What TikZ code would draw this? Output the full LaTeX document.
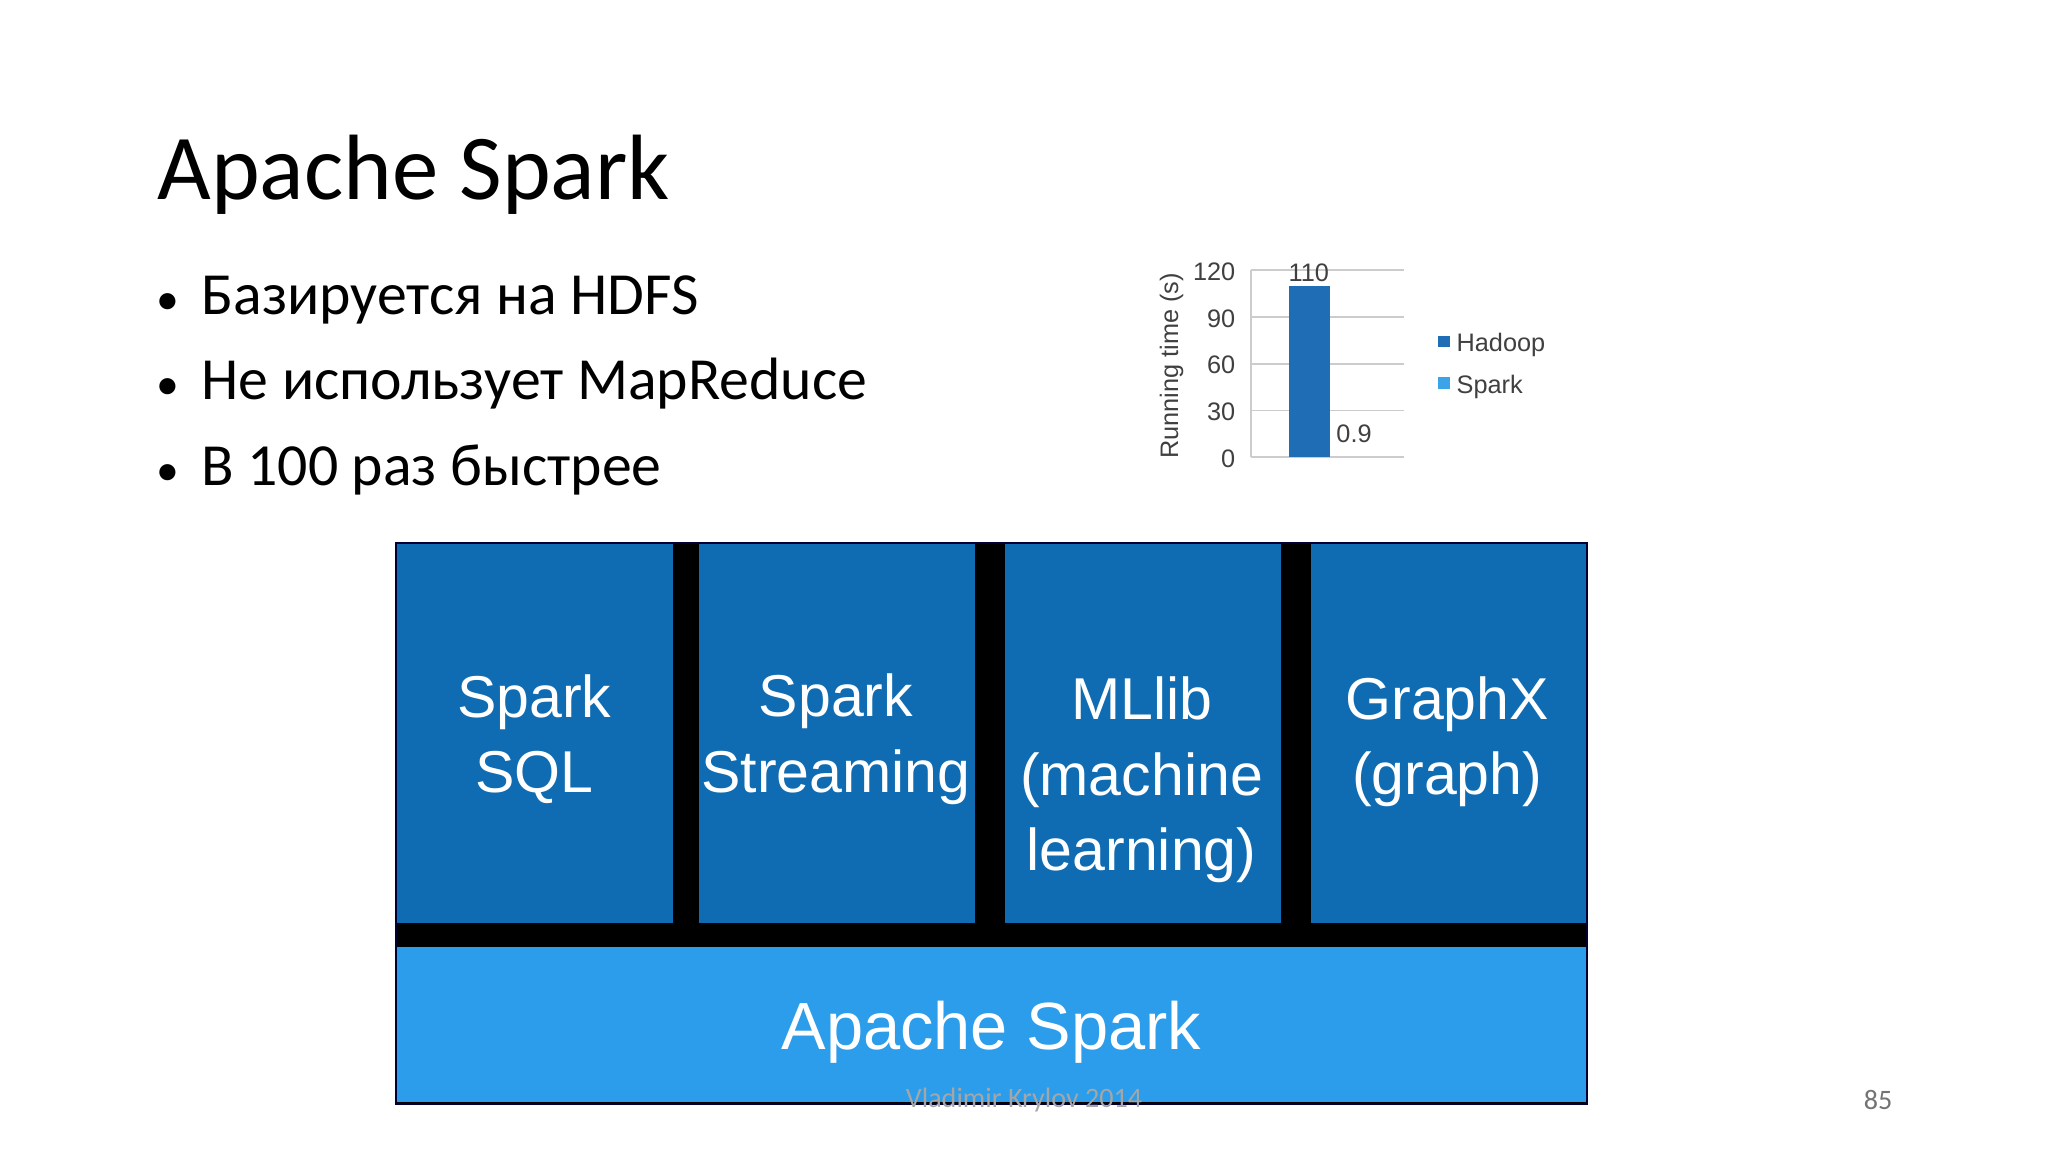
\documentclass[tikz,border=0pt]{standalone}
\usepackage{fontspec}
\setmainfont{Carlito}
\newfontfamily\hel{Liberation Sans}
\begin{document}
\begin{tikzpicture}[x=0.0130612cm,y=-0.0130612cm,
  top/.style={fill=topblue,draw=none,inner sep=0},
  btxt/.style={font=\hel\fontsize{16.8}{21.5}\selectfont,text=white,align=center},
  tick/.style={font=\hel\fontsize{7.2}{8}\selectfont,text=black!75},
  grid/.style={draw=black!20,line width=0.5pt},
  bul/.style={font=\fontsize{17}{20}\selectfont,anchor=base west,inner sep=0}]
\definecolor{topblue}{HTML}{0F6CB2}
\definecolor{botblue}{HTML}{2B9DEA}
\definecolor{hadoop}{HTML}{1F6DB5}
\definecolor{sparkc}{HTML}{3BA3E8}
\useasboundingbox (0,0) rectangle (1568,882);
\fill[white] (0,0) rectangle (1568,882);
% title and bullets
\node[font=\fontsize{26.4}{30}\selectfont,anchor=base west,inner sep=0] (title) at (120,153) {Apache Spark};
\node[bul] (b1) at (119,241) {{\fontsize{13}{13}\selectfont•}\hspace{0.38em}Базируется на HDFS};
\node[bul] (b2) at (119,306) {{\fontsize{13}{13}\selectfont•}\hspace{0.38em}Не использует MapReduce};
\node[bul] (b3) at (119,372) {{\fontsize{13}{13}\selectfont•}\hspace{0.38em}В 100 раз быстрее};
% chart
\foreach \v in {0,30,60,90,120}{
  \draw[grid] (958,{350-\v*1.19167}) -- (1075,{350-\v*1.19167});
  \node[tick,anchor=east,inner sep=1pt] (t\v) at (949,{351-\v*1.19167}) {\v};
}
\draw[grid] (958,207) -- (958,350);
\fill[hadoop] (987,219) rectangle (1018,350);
\node[tick,anchor=south,inner sep=1pt] (l110) at (1002,219) {110};
\node[tick,anchor=west,inner sep=1pt] (l09) at (1020,332) {0.9};
\node[tick,rotate=90] (ylab) at (897,280) {Running time (s)};
\fill[hadoop] (1101,257) rectangle (1110,266);
\fill[sparkc] (1101,289) rectangle (1110,298);
\node[tick,anchor=west,inner sep=1pt] (lh) at (1112,264) {Hadoop};
\node[tick,anchor=west,inner sep=1pt] (ls) at (1112,296) {Spark};
% stack
\fill[black] (303,416) rectangle (1215,845);
\node[top,minimum width=212*0.0130612cm,minimum height=290*0.0130612cm,anchor=north west] (sql) at (303,416) {};
\node[top,minimum width=211*0.0130612cm,minimum height=290*0.0130612cm,anchor=north west] (str) at (535,416) {};
\node[top,minimum width=211*0.0130612cm,minimum height=290*0.0130612cm,anchor=north west] (ml) at (769,416) {};
\node[top,minimum width=212*0.0130612cm,minimum height=290*0.0130612cm,anchor=north west] (gx) at (1003,416) {};
\fill[botblue] (304,725) rectangle (1214,844);
\node[btxt] (tsql) at (409,566) {Spark\\SQL};
\node[btxt] (tstr) at (640,566) {Spark\\Streaming};
\node[btxt] (tml) at (874,597) {MLlib\\(machine\\learning)};
\node[btxt] (tgx) at (1108,568) {GraphX\\(graph)};
\node[btxt,font=\hel\fontsize{19}{22}\selectfont] (tas) at (759,790) {Apache Spark};
\draw[black!80!blue,line width=0.6pt] (303,416) rectangle (1215,845);
% footer
\node[font=\fontsize{8}{9}\selectfont,text=black!35] (foot) at (784,842) {Vladimir Krylov 2014};
\node[font=\fontsize{8}{9}\selectfont,text=black!55] (pg) at (1438,842) {85};
\end{tikzpicture}
\end{document}
